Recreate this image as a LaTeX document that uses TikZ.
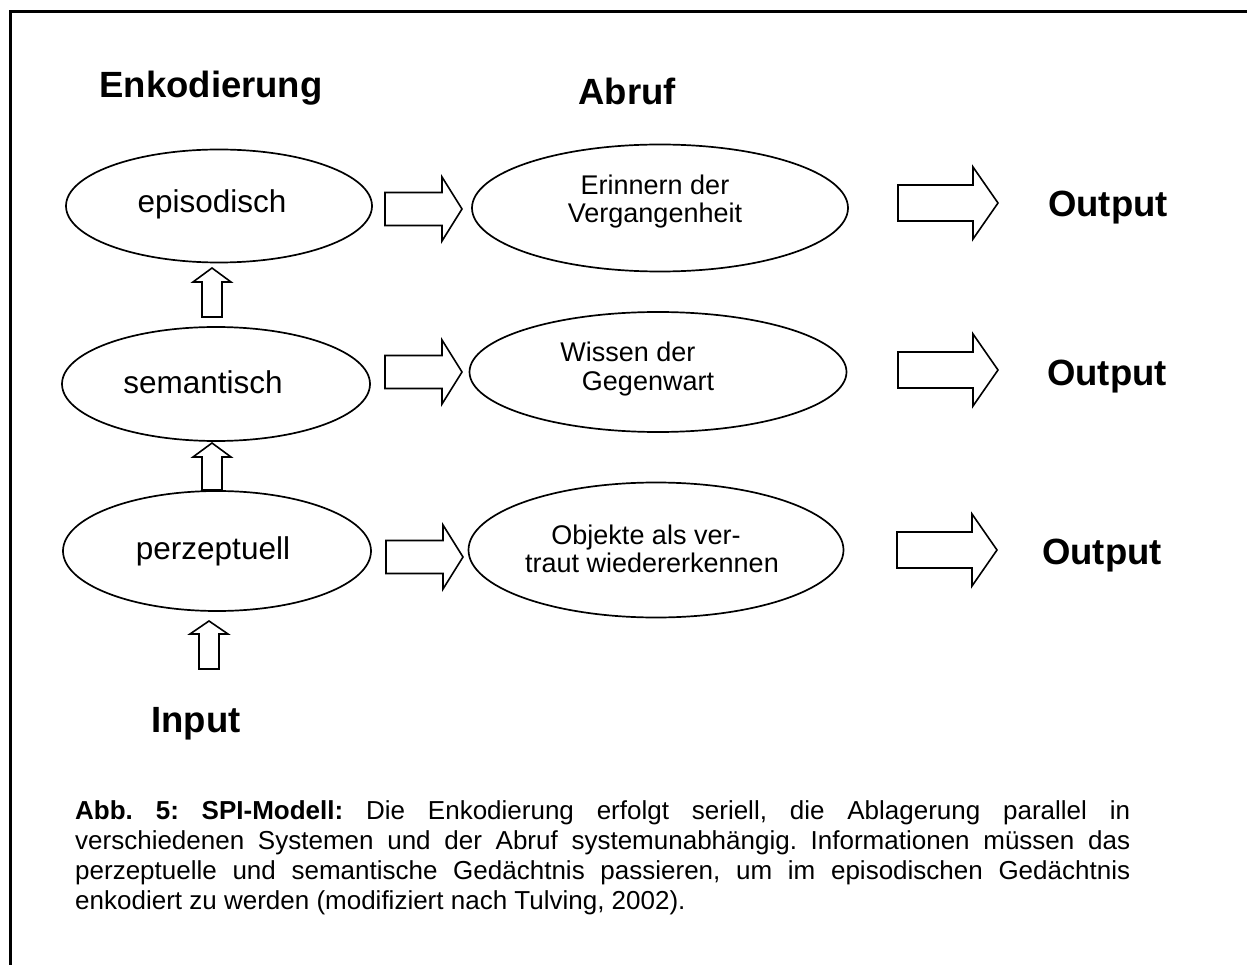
\documentclass[tikz,border=0pt]{standalone}
\usepackage{fontspec}
\setmainfont{Liberation Sans}
\usetikzlibrary{shapes.geometric,calc}

\tikzset{
  frame/.style={line width=3pt},
  oval/.style={draw, ellipse, line width=1.7pt, inner sep=0pt},
  arrowline/.style={draw, line width=1.6pt, fill=white, line join=miter},
  heading/.style={font=\fontsize{36.5}{40}\bfseries\selectfont, inner sep=0pt, anchor=base},
  leftlbl/.style={font=\fontsize{31.5}{36}\selectfont, inner sep=0pt, anchor=base},
  rightlbl/.style={font=\fontsize{27}{30}\selectfont, inner sep=0pt, anchor=base},
  captext/.style={font=\fontsize{26}{30}\selectfont\frenchspacing, inner sep=0pt, anchor=base west},
  % block arrow pointing along +x: length, shaft width, head width, head length
  pics/fatarrow/.style n args={4}{code={
    \path[arrowline] (0,{-(#2)/2}) -- ({#1-#4},{-(#2)/2}) -- ({#1-#4},{-(#3)/2})
      -- (#1,0) -- ({#1-#4},{(#3)/2}) -- ({#1-#4},{(#2)/2}) -- (0,{(#2)/2}) -- cycle;
  }},
}

\begin{document}
\begin{tikzpicture}[x=1pt,y=-1pt]
\useasboundingbox (0,0) rectangle (1247,965);
\fill[white] (0,0) rectangle (1247,965);

% outer frame (top and left edges)
\draw[frame] (1247,12) -- (10,12) -- (10,965);

% column headings
\node[heading] (enk) at (211,98) {Enkodierung};
\node[heading] (abr) at (627,105) {Abruf};

% encoding systems
\node[oval, minimum width=306pt, minimum height=113pt] (epi) at (219,206) {};
\node[oval, minimum width=308pt, minimum height=114pt] (sem) at (216,384) {};
\node[oval, minimum width=308pt, minimum height=120pt] (per) at (217,551) {};
\node[leftlbl] (epiT) at (212,213) {episodisch};
\node[leftlbl] (semT) at (203,393) {semantisch};
\node[leftlbl] (perT) at (213,559) {perzeptuell};

% retrieval
\node[oval, minimum width=376pt, minimum height=127pt] (eri) at (660,208) {};
\node[oval, minimum width=377pt, minimum height=120pt] (wis) at (658,372) {};
\node[oval, minimum width=375pt, minimum height=135pt] (obj) at (656,550) {};
\node[rightlbl] (eriA) at (655,195) {Erinnern der};
\node[rightlbl] (eriB) at (655,223) {Vergangenheit};
\node[rightlbl] (wisA) at (628,362) {Wissen der};
\node[rightlbl] (wisB) at (648,390) {Gegenwart};
\node[rightlbl] (objA) at (646,544) {Objekte als ver-};
\node[rightlbl] (objB) at (652,572) {traut wiedererkennen};

% outputs
\node[heading] (out1) at (1108,217) {Output};
\node[heading] (out2) at (1107,385) {Output};
\node[heading] (out3) at (1102,564) {Output};

% input
\node[heading] (inp) at (196,732) {Input};

% serial encoding arrows (upwards)
\pic[rotate=90] at (212,317) {fatarrow={49}{20}{38}{14}};
\pic[rotate=90] at (212,490) {fatarrow={47}{20}{38}{14}};
\pic[rotate=90] at (209,669) {fatarrow={48}{20}{38}{13}};

% encoding -> retrieval
\pic at (385,209) {fatarrow={77}{33}{64}{20}};
\pic at (385,372) {fatarrow={77}{33}{64}{20}};
\pic at (386,557) {fatarrow={77}{33}{64}{20}};

% retrieval -> output
\pic at (898,203) {fatarrow={100}{36}{72}{25}};
\pic at (898,370) {fatarrow={100}{36}{72}{25}};
\pic at (897,550) {fatarrow={100}{36}{72}{25}};

% caption (justified block)
\node[captext] (cap1) at (75,819) {\makebox[1055pt][s]{\textbf{Abb. 5: SPI-Modell:} Die Enkodierung erfolgt seriell, die Ablagerung parallel in}};
\node[captext] (cap2) at (75,849) {\makebox[1055pt][s]{verschiedenen Systemen und der Abruf systemunabhängig. Informationen müssen das}};
\node[captext] (cap3) at (75,879) {\makebox[1055pt][s]{perzeptuelle und semantische Gedächtnis passieren, um im episodischen Gedächtnis}};
\node[captext] (cap4) at (75,909) {enkodiert zu werden (modifiziert nach Tulving, 2002).};
\end{tikzpicture}
\end{document}
